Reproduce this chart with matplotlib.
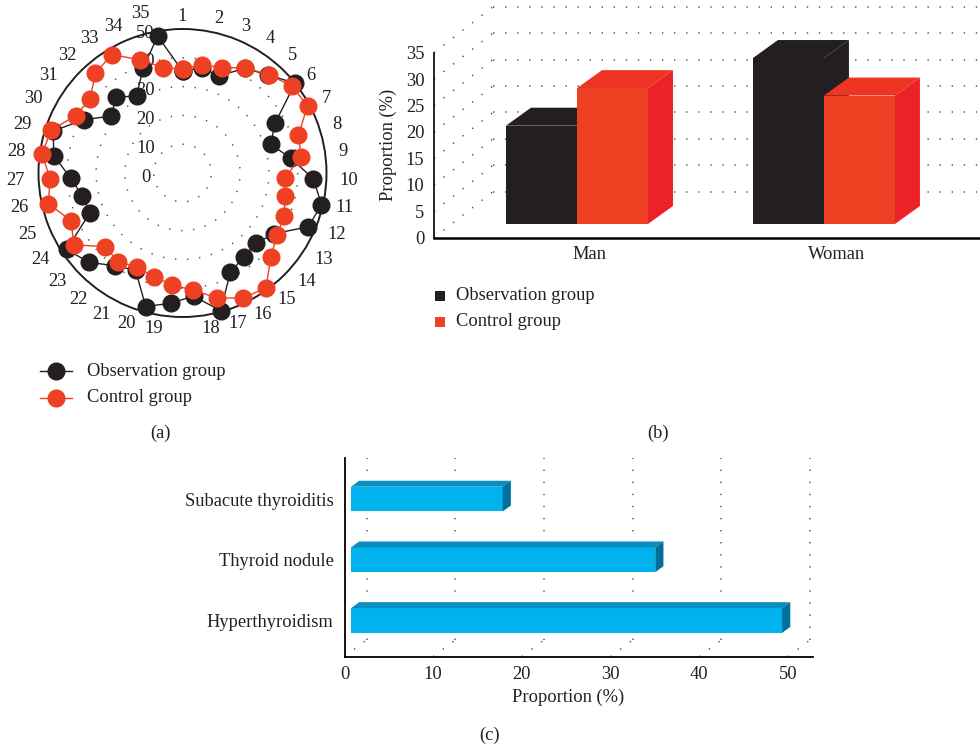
#! /usr/bin/env python3
import numpy as np
import matplotlib
matplotlib.use('Agg')
from matplotlib import pyplot as plt, transforms
from matplotlib.patches import Polygon, Rectangle
from matplotlib.lines import Line2D

# (a) scores of the 35 cases in each group
case_ids = list(range(1, 36))
obs_scores = [35.4, 37.0, 36.1, 42.3, 45.2, 50.0, 36.5, 32.2, 38.0, 45.5,
              49.5, 47.5, 38.2, 35.3, 36.1, 38.3, 49.6, 42.9, 45.4, 48.1,
              37.5, 39.8, 44.9, 48.2, 34.9, 35.7, 38.9, 45.1, 47.2, 39.0,
              31.7, 35.0, 31.1, 38.9, 48.3]
ctl_scores = [36.1, 38.2, 39.1, 42.5, 45.4, 48.5, 49.3, 42.3, 41.6, 35.6,
              36.5, 38.4, 39.3, 42.4, 49.3, 48.2, 45.0, 40.8, 39.1, 37.3,
              36.3, 38.0, 37.1, 45.2, 42.1, 47.8, 46.0, 49.2, 48.0, 42.1,
              41.1, 46.0, 47.9, 42.0, 37.2]
radial_ticks = [0, 10, 20, 30, 40, 50]

# (b) sex distribution (%)
sex_labels = ['Man', 'Woman']
obs_sex = [18.6, 31.4]
ctl_sex = [25.7, 24.3]
sex_ticks = [0, 5, 10, 15, 20, 25, 30, 35]

# (c) disease type (%)
disease_labels = ['Hyperthyroidism', 'Thyroid nodule', 'Subacute thyroiditis']
disease_pct = [48.6, 34.3, 17.1]
pct_ticks = [0, 10, 20, 30, 40, 50]

BLACK = '#231f20'
RED = '#ee4124'
RED_FACES = ('#ee4124', '#ee3524', '#ec2227')
BLACK_FACES = ('#231f20', '#231f20', '#231f20')
BLUE_FACES = ('#00b3ee', '#0a8ec0', '#006f99')
DOTS = dict(color='#555555', lw=1.1, linestyle=(0, (0.9, 7.0)))

W, H = 980, 747
plt.rcParams['font.family'] = ['Liberation Serif', 'DejaVu Serif']
plt.rcParams['font.size'] = 13.3
plt.rcParams['text.color'] = BLACK
plt.rcParams['xtick.color'] = BLACK
plt.rcParams['ytick.color'] = BLACK


def fig_rect(left, top, right, bottom):
    """Convert a pixel box into a figure-fraction rect."""
    return [left / W, 1 - bottom / H, (right - left) / W, (bottom - top) / H]


def px_to_data(ax, dx, dy):
    """Size of a pixel offset in data units."""
    inv = ax.transData.inverted()
    (x0, y0), (x1, y1) = inv.transform([(0, 0), (dx, dy)])
    return x1 - x0, y1 - y0


def box(ax, x0, y0, w, h, d, faces):
    """Draw a pseudo-3D box: front, top and right faces."""
    front, top, side = faces
    ddx, ddy = d
    ax.add_patch(Rectangle((x0, y0), w, h, fc=front, ec='none', zorder=3, clip_on=False))
    ax.add_patch(Polygon([(x0, y0 + h), (x0 + w, y0 + h), (x0 + w + ddx, y0 + h + ddy),
                          (x0 + ddx, y0 + h + ddy)], fc=top, ec='none', zorder=3, clip_on=False))
    ax.add_patch(Polygon([(x0 + w, y0), (x0 + w + ddx, y0 + ddy), (x0 + w + ddx, y0 + h + ddy),
                          (x0 + w, y0 + h)], fc=side, ec='none', zorder=3, clip_on=False))


def plot_radar(fig):
    ax = fig.add_axes(fig_rect(38.5, 29, 326.5, 317), projection='polar')
    ax.set_theta_zero_location('N')
    ax.set_theta_direction(-1)
    ax.set_ylim(0, 50)
    ax.set_xticks([])
    ax.set_yticks([])
    ax.grid(False)
    ax.spines['polar'].set_linewidth(1.4)
    ax.spines['polar'].set_color(BLACK)

    ring = np.linspace(0, 2 * np.pi, 361)
    for r in radial_ticks[1:-1]:
        ax.plot(ring, np.full_like(ring, r), zorder=1, **DOTS)

    # Radial scale written left of the vertical axis
    lab_tr = transforms.offset_copy(ax.transData, fig=fig, x=-37, y=-4, units='dots')
    for r in radial_ticks:
        ax.text(0, r, str(r), transform=lab_tr, ha='center', va='center', zorder=2)

    # Case numbers just outside the ring, pushed sideways away from the vertical
    theta = np.deg2rad(np.arange(len(case_ids)) * 360 / len(case_ids))
    for th, cid in zip(theta, case_ids):
        s, c = np.sin(th), np.cos(th)
        if abs(s) < 0.05:
            shift, ha = 0, 'center'
        elif s > 0:
            shift, ha = 5, 'left'
        else:
            shift, ha = -6, 'right'
        lift = 4.5 * c
        if s < 0 and c > 0.95:
            lift += 5  # clear the radial scale
        tr = transforms.offset_copy(ax.transData, fig=fig, x=shift, y=lift, units='dots')
        ax.text(th, 52.8, str(cid), transform=tr, ha=ha, va='center')

    th_closed = np.append(theta, theta[0])
    for vals, c in ((obs_scores, BLACK), (ctl_scores, RED)):
        ax.plot(th_closed, vals + vals[:1], color=c, lw=1, marker='o', ms=12,
                mec=c, zorder=3, clip_on=False)


def plot_sex(fig):
    ax = fig.add_axes(fig_rect(434, 52.7, 980, 237.7))
    ax.set_xlim(-0.579, 1.632)
    ax.set_ylim(0, 35)
    for side in ('top', 'right'):
        ax.spines[side].set_visible(False)
    ax.spines['left'].set_linewidth(1.2)
    ax.spines['bottom'].set_linewidth(1.8)

    # Dotted back wall and side wall
    bdx, bdy = px_to_data(ax, 59, 46)
    x0, x1 = ax.get_xlim()
    for t in sex_ticks:
        ax.plot([x0, x0 + bdx], [t, t + bdy], clip_on=False, zorder=1, **DOTS)
        ax.plot([x0 + bdx, x1], [t + bdy, t + bdy], clip_on=False, zorder=1, **DOTS)

    w = px_to_data(ax, 71, 0)[0]
    d = px_to_data(ax, 25, 18)
    base = px_to_data(ax, 0, 13.7)[1]
    for i in range(len(sex_labels)):
        box(ax, i - w, base, w, obs_sex[i], d, BLACK_FACES)
        box(ax, i, base, w, ctl_sex[i], d, RED_FACES)

    ax.set_xticks(np.arange(len(sex_labels)) + d[0] / 2)
    ax.set_xticklabels(sex_labels)
    ax.set_yticks(sex_ticks)
    ax.tick_params(length=0)
    ax.tick_params(axis='y', pad=7)
    ax.tick_params(axis='x', pad=6)


def plot_disease(fig):
    ax = fig.add_axes(fig_rect(344.5, 458, 813, 656.7))
    ax.set_xlim(0, (813 - 344.5) / 8.87)
    ax.set_ylim(-0.596, 2.677)
    for side in ('top', 'right'):
        ax.spines[side].set_visible(False)
    ax.spines['left'].set_linewidth(1.3)
    ax.spines['bottom'].set_linewidth(1.3)

    bdx, bdy = px_to_data(ax, 22, 16.7)
    y0, y1 = ax.get_ylim()
    for t in pct_ticks:
        ax.plot([t, t + bdx], [y0, y0 + bdy], zorder=1, **DOTS)
        ax.plot([t + bdx, t + bdx], [y0 + bdy, y1], zorder=1, **DOTS)

    th = px_to_data(ax, 0, 24.7)[1]
    d = px_to_data(ax, 8.2, 6)
    base = px_to_data(ax, 6.5, 0)[0]
    ypos = np.arange(len(disease_labels))
    for y, v in zip(ypos, disease_pct):
        box(ax, base, y - th / 2, v, th, d, BLUE_FACES)

    ax.set_yticks(ypos)
    ax.set_yticklabels(disease_labels)
    ax.set_xticks(pct_ticks)
    ax.tick_params(length=0)
    ax.tick_params(axis='y', pad=8)
    ax.tick_params(axis='x', pad=7)


def annotate(fig):
    """Legends, axis titles and panel letters placed in pixel space."""
    bg = fig.add_axes([0, 0, 1, 1], zorder=-1)
    bg.set_xlim(0, W)
    bg.set_ylim(H, 0)
    bg.axis('off')

    for y, c, name in ((371, BLACK, 'Observation group'), (398, RED, 'Control group')):
        bg.add_line(Line2D([40, 72], [y, y], color=c, lw=1))
        bg.plot([56], [y], marker='o', ms=12, color=c)
        bg.text(87, y, name, ha='left', va='center')

    for y, c, name in ((296, BLACK, 'Observation group'), (322, RED, 'Control group')):
        bg.add_patch(Rectangle((435, y - 5), 10, 10, fc=c, ec='none'))
        bg.text(456, y, name, ha='left', va='center')

    bg.text(388, 145, 'Proportion (%)', rotation=90, ha='center', va='center')
    bg.text(568, 697, 'Proportion (%)', ha='center', va='center')

    bg.text(160, 433, '(a)', ha='center', va='center')
    bg.text(658, 433, '(b)', ha='center', va='center')
    bg.text(490, 735, '(c)', ha='center', va='center')


def main():
    fig = plt.figure(figsize=(W / 100, H / 100), dpi=100)
    annotate(fig)
    plot_radar(fig)
    plot_sex(fig)
    plot_disease(fig)
    fig.savefig('out.png', dpi=100, facecolor='white')


if __name__ == '__main__':
    main()
